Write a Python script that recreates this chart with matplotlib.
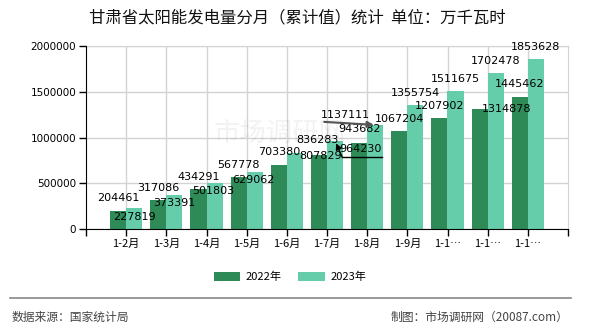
import matplotlib
matplotlib.use("Agg")
import matplotlib.pyplot as plt
import numpy as np

plt.rcParams['font.family'] = ['Noto Sans CJK SC', 'DejaVu Sans']

# Monthly cumulative solar generation, Gansu (10,000 kWh)
categories = ["1-2月", "1-3月", "1-4月", "1-5月", "1-6月", "1-7月",
              "1-8月", "1-9月", "1-10月", "1-11月", "1-12月"]
values_2022 = [204461, 317086, 434291, 567778, 703380, 807829,
               943682, 1067204, 1207902, 1314878, 1445462]
values_2023 = [227819, 373391, 501803, 629062, 836283, 964230,
               1137111, 1355754, 1511675, 1702478, 1853628]
series_names = ["2022年", "2023年"]
y_ticks = [0, 500000, 1000000, 1500000, 2000000]

title = "甘肃省太阳能发电量分月（累计值）统计  单位：万千瓦时"
source_text = "数据来源：国家统计局"
credit_text = "制图：市场调研网（20087.com）"

c_dark = "#2e8b57"
c_light = "#66cdaa"

# Long category names are shortened on the axis
tick_labels = [c if len(c) <= 4 else c[:3] + "…" for c in categories]

# Value-label placement (pixel offsets from bar top, y up)
off_2022 = [(0, 12.5), (0, 12), (0, 12), (0, 12), (0, 12.5), (2, -1),
            (0, 13.5), (0, 12), (0, 12), (27, 0), (0, 12.5)]
off_2023 = [(0, -8.3), (0, -8), (-1, -8), (-1, -8.4), (23, 12.5), (25, -8),
            (-30, 10), (0, 12), (0, 12), (0, 12), (0, 12)]

fig = plt.figure(figsize=(5.9, 3.3), dpi=100)
ax = fig.add_axes([86 / 590, 1 - 229.3 / 330, 482 / 590, 183.6 / 330])

x = np.arange(len(categories))
w = 0.4
ax.bar(x - w / 2, values_2022, width=w, color=c_dark, zorder=2, label=series_names[0])
ax.bar(x + w / 2, values_2023, width=w, color=c_light, zorder=2, label=series_names[1])

ax.set_xlim(-1, len(categories))
ax.set_ylim(0, 2000000)
ax.set_yticks(y_ticks)
ax.set_yticklabels([str(v) for v in y_ticks], fontsize=7.5, family=['DejaVu Sans'])
ax.set_xticks(x)
ax.set_xticklabels(tick_labels, fontsize=8)
ax.set_xticks([-1, len(categories)], minor=True)
ax.tick_params(axis='both', which='both', length=5, width=1, color='black', pad=2)

ax.grid(True, color='#d3d3d3', lw=1, zorder=0)
for s in ('top', 'right'):
    ax.spines[s].set_color('#d3d3d3')
for s in ('left', 'bottom'):
    ax.spines[s].set_color('black')
    ax.spines[s].set_zorder(3)

lab_kw = dict(textcoords='offset pixels', ha='center', va='center',
              fontsize=8, family=['DejaVu Sans'], color='black', zorder=5)
for i, v in enumerate(values_2022):
    ax.annotate(str(v), xy=(x[i] - w / 2, v), xytext=off_2022[i], **lab_kw)
for i, v in enumerate(values_2023):
    ax.annotate(str(v), xy=(x[i] + w / 2, v), xytext=off_2023[i], **lab_kw)

# Leader lines for the two displaced 2023 labels
i7 = categories.index("1-7月")
ax.annotate("", xy=(x[i7] + w / 2, values_2023[i7]), xytext=(7, -16),
            textcoords='offset pixels', zorder=5,
            arrowprops=dict(arrowstyle='-|>', color='black', lw=1, mutation_scale=9,
                            shrinkA=0, shrinkB=2))
fig.canvas.draw()
p0 = ax.transData.transform((x[i7] + w / 2, values_2023[i7]))
ax.plot([p0[0] + 7, p0[0] + 47], [p0[1] - 16, p0[1] - 16], color='black', lw=1,
        transform=None, zorder=5)

i8 = categories.index("1-8月")
ax.annotate("", xy=(x[i8] + w / 2, values_2023[i8]), xytext=(-51, 3),
            textcoords='offset pixels', zorder=5,
            arrowprops=dict(arrowstyle='-|>', color='#555555', lw=1.5, mutation_scale=9,
                            shrinkA=0, shrinkB=1))

# faint watermark
fig.text(280 / 590, 1 - 133 / 330, "市场调研网", fontsize=19, color='#000000',
         alpha=0.05, ha='center', va='center', zorder=10)

fig.text(297 / 590, 1 - 18 / 330, title, fontsize=11.8, ha='center', va='center',
         color='#111111')

# legend
handles, labels = ax.get_legend_handles_labels()
fig.legend(handles, labels, loc='center', bbox_to_anchor=(290 / 590, 1 - 277 / 330),
           ncol=2, frameon=False, fontsize=8, handlelength=2.4, handleheight=0.9,
           columnspacing=1.5, handletextpad=0.5)

# footer
fig.add_artist(plt.Line2D([10 / 590, 571 / 590], [1 - 298.3 / 330] * 2,
                          color='#888888', lw=1.2))
fig.text(12 / 590, 1 - 317 / 330, source_text, fontsize=8.5, color='#444444',
         ha='left', va='center')
fig.text(568 / 590, 1 - 317 / 330, credit_text, fontsize=8.5, color='#444444',
         ha='right', va='center')

fig.savefig("out.png", dpi=100)
